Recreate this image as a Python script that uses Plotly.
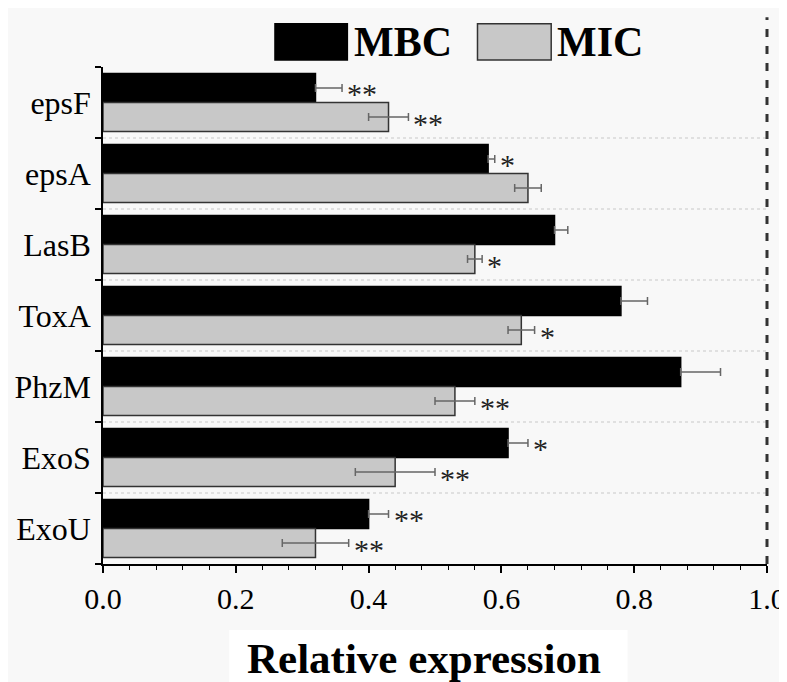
import plotly.graph_objects as go

genes = ["epsF", "epsA", "LasB", "ToxA", "PhzM", "ExoS", "ExoU"]
mbc = [0.32, 0.58, 0.68, 0.78, 0.87, 0.61, 0.40]
mbc_err = [0.04, 0.01, 0.02, 0.04, 0.06, 0.03, 0.03]
mic = [0.43, 0.64, 0.56, 0.63, 0.53, 0.44, 0.32]
mic_err = [0.03, 0.02, 0.011, 0.02, 0.03, 0.06, 0.05]
mbc_sig = ["**", "*", "", "", "", "*", "**"]
mic_sig = ["**", "", "*", "*", "**", "**", "**"]
x_ticks = [0.0, 0.2, 0.4, 0.6, 0.8, 1.0]

pos = list(range(len(genes)))
SERIF = "Liberation Serif, Times New Roman, serif"
BG = "#f8f8f8"
BARGAP = 0.18
half = (1 - BARGAP) / 4  # center offset of each bar within group

fig = go.Figure()
fig.add_trace(go.Bar(
    y=pos, x=mbc, orientation="h", name="MBC",
    marker=dict(color="black", line=dict(color="black", width=1.5)),
    # lower half is hidden inside the black bar in the reference
    error_x=dict(type="data", symmetric=False, array=mbc_err, arrayminus=[0] * len(mbc_err),
                 color="#666666", thickness=1.5, width=4),
))
fig.add_trace(go.Bar(
    y=pos, x=mic, orientation="h", name="MIC",
    marker=dict(color="#c8c8c8", line=dict(color="#333333", width=1.5)),
    error_x=dict(type="data", array=mic_err, color="#666666", thickness=1.5, width=4),
))

# significance asterisks
for i, g in enumerate(genes):
    for val, err, sig, off in ((mbc[i], mbc_err[i], mbc_sig[i], -half),
                               (mic[i], mic_err[i], mic_sig[i], half)):
        if sig:
            fig.add_annotation(x=val + err, y=i + off, text=sig, showarrow=False,
                               xanchor="left", yanchor="middle", xshift=3, yshift=-6,
                               font=dict(family=SERIF, size=30, color="#222222"))

shapes = []
# dotted separators between groups
for i in range(len(genes) - 1):
    shapes.append(dict(type="line", xref="paper", yref="y", x0=0, x1=1,
                       y0=i + 0.5, y1=i + 0.5, layer="below",
                       line=dict(color="#c8c8c8", width=1, dash="dot")))
# dashed line at right edge (x = 1.0)
shapes.append(dict(type="line", xref="paper", yref="paper", x0=1.0, x1=1.0, y0=0, y1=1.1,
                   line=dict(color="#333333", width=3, dash="8px,9px")))
# white box behind x-axis title
shapes.append(dict(type="rect", xref="paper", yref="paper", x0=0.19, x1=0.79,
                   y0=-0.26, y1=-0.133, fillcolor="white", line=dict(width=0), layer="below"))
# legend boxes
shapes.append(dict(type="rect", xref="paper", yref="paper", x0=0.259, x1=0.368,
                   y0=1.014, y1=1.087, fillcolor="black", line=dict(color="black", width=1.5)))
shapes.append(dict(type="rect", xref="paper", yref="paper", x0=0.564, x1=0.675,
                   y0=1.014, y1=1.087, fillcolor="#c8c8c8", line=dict(color="#333333", width=1.5)))
fig.add_annotation(xref="paper", yref="paper", x=0.375, y=1.05, text="<b>MBC</b>",
                   showarrow=False, xanchor="left", yanchor="middle",
                   font=dict(family=SERIF, size=42, color="black"))
fig.add_annotation(xref="paper", yref="paper", x=0.68, y=1.05, text="<b>MIC</b>",
                   showarrow=False, xanchor="left", yanchor="middle",
                   font=dict(family=SERIF, size=42, color="black"))
# x-axis title
fig.add_annotation(xref="paper", yref="paper", x=0.483, y=-0.19, text="<b>Relative expression</b>",
                   showarrow=False, xanchor="center", yanchor="middle",
                   font=dict(family=SERIF, size=43, color="black"))

# page has an 8px body margin, so the figure is 779x674 inside a 787x682 window
fig.update_layout(
    width=779, height=674,
    margin=dict(l=95, r=20, t=59, b=118, autoexpand=False),
    paper_bgcolor=BG, plot_bgcolor=BG,
    barmode="group", bargap=BARGAP, bargroupgap=0,
    showlegend=False,
    shapes=shapes,
    font=dict(family=SERIF, color="black"),
)
fig.update_xaxes(
    range=[0, 1.0], tickvals=x_ticks, ticktext=[f"{v:.1f}" for v in x_ticks],
    showgrid=False, zeroline=False, automargin=False,
    showline=True, linecolor="black", linewidth=1.5,
    ticks="outside", ticklen=7, tickwidth=1.5, tickcolor="black",
    minor=dict(dtick=0.04, tick0=0, ticks="outside", ticklen=4, tickwidth=1.2, tickcolor="black", showgrid=False),
    tickfont=dict(family=SERIF, size=30, color="black"),
)
fig.update_yaxes(
    range=[len(genes) - 0.5, -0.5], tickvals=pos, ticktext=genes,
    showgrid=False, zeroline=False, automargin=False,
    showline=True, linecolor="black", linewidth=1.5,
    ticks="", ticklabelstandoff=4,
    minor=dict(tickvals=[i - 0.5 for i in range(len(genes) + 1)], ticks="outside",
               ticklen=6, tickwidth=1.5, tickcolor="black", showgrid=False),
    tickfont=dict(family=SERIF, size=32, color="black"),
)

fig.write_html("out.html")
